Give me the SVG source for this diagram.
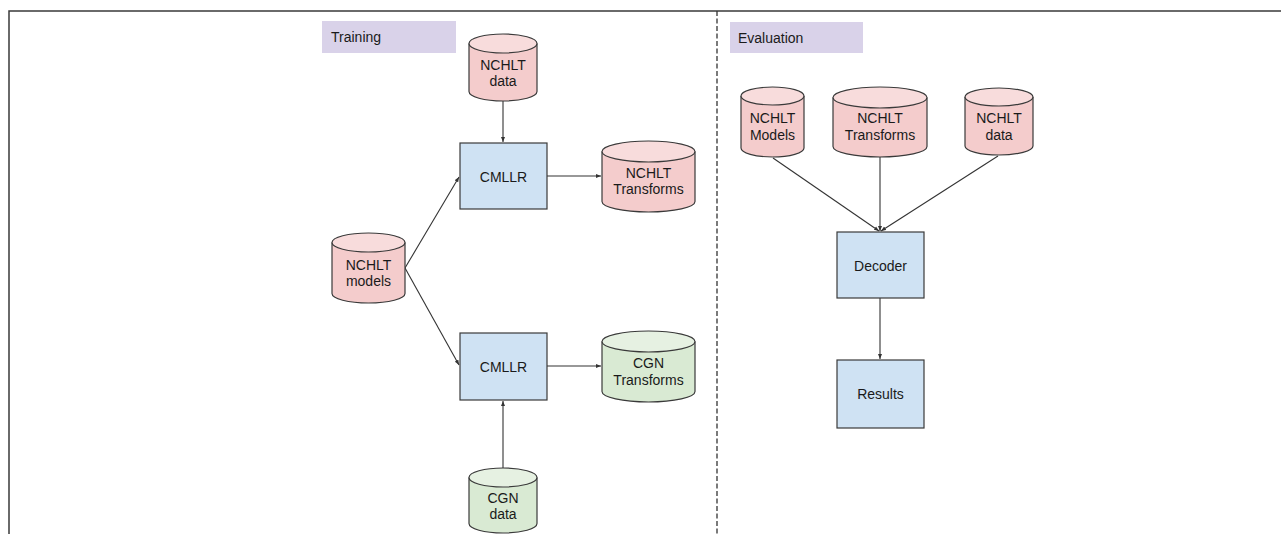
<svg xmlns="http://www.w3.org/2000/svg" width="1281" height="534" viewBox="0 0 1281 534">
<defs>
<style>
text{font-family:"Liberation Sans",Arial,sans-serif;font-size:14px;fill:#1a1a1a;text-anchor:middle}
.lbl{text-anchor:start}
.sec{fill:#d9d2e9}
.box{fill:#cfe2f3;stroke:#3a3a3a;stroke-width:1.2}
.cylp{fill:#f4cccc;stroke:#3a3a3a;stroke-width:1.2}
.topp{fill:#f8dcdc;stroke:#3a3a3a;stroke-width:1.2}
.cylg{fill:#d9ead3;stroke:#3a3a3a;stroke-width:1.2}
.topg{fill:#e6f1e2;stroke:#3a3a3a;stroke-width:1.2}
.edge{fill:none;stroke:#333;stroke-width:1.1;marker-end:url(#ah)}
.frame{fill:none;stroke:#3a3a3a;stroke-width:1.5}
</style>
<marker id="ah" viewBox="0 0 10 10" refX="10" refY="5" markerWidth="5" markerHeight="5" markerUnits="userSpaceOnUse" orient="auto"><path d="M0,1 L10,5 L0,9 Z" fill="#333"/></marker>
</defs>
<rect width="1281" height="534" fill="#fff"/>
<g id="frame">
<path class="frame" d="M9,534 V11 H1281"/>
<line x1="717" y1="11" x2="717" y2="534" stroke="#333" stroke-width="1.3" stroke-dasharray="5,2.5"/>
</g>
<g id="training-label"><rect class="sec" x="322" y="21" width="134" height="32"/><text class="lbl" x="331" y="42">Training</text></g>
<g id="evaluation-label"><rect class="sec" x="730" y="22" width="133" height="31"/><text class="lbl" x="738" y="43">Evaluation</text></g>

<g id="connectors">
<line class="edge" x1="503" y1="101" x2="503" y2="142"/>
<line class="edge" x1="547" y1="176" x2="601" y2="176"/>
<line class="edge" x1="405" y1="268" x2="459" y2="177"/>
<line class="edge" x1="405" y1="268" x2="459" y2="365"/>
<line class="edge" x1="547" y1="366" x2="601" y2="366"/>
<line class="edge" x1="503" y1="468" x2="503" y2="401"/>
<line class="edge" x1="773" y1="158" x2="879" y2="231"/>
<line class="edge" x1="880" y1="157" x2="880" y2="231"/>
<line class="edge" x1="998" y1="156" x2="881" y2="231"/>
<line class="edge" x1="880" y1="298" x2="880" y2="359"/>
</g>

<g id="nchlt-data-train">
<path class="cylp" d="M469,43.5 V91.5 A34,9.5 0 0 0 537,91.5 V43.5"/>
<ellipse class="topp" cx="503" cy="43.5" rx="34" ry="9.5"/>
<text x="503" y="70">NCHLT</text><text x="503" y="86">data</text>
</g>
<g id="cmllr1"><rect class="box" x="460" y="143" width="87" height="66"/><text x="503.5" y="182">CMLLR</text></g>
<g id="nchlt-transforms-train">
<path class="cylp" d="M602,151.5 V201.5 A46.5,10.5 0 0 0 695,201.5 V151.5"/>
<ellipse class="topp" cx="648.5" cy="151.5" rx="46.5" ry="10.5"/>
<text x="648.5" y="178">NCHLT</text><text x="648.5" y="194">Transforms</text>
</g>
<g id="nchlt-models-train">
<path class="cylp" d="M332,242.5 V293.5 A36.5,9.5 0 0 0 405,293.5 V242.5"/>
<ellipse class="topp" cx="368.5" cy="242.5" rx="36.5" ry="9.5"/>
<text x="368.5" y="270">NCHLT</text><text x="368.5" y="286">models</text>
</g>
<g id="cmllr2"><rect class="box" x="460" y="333" width="87" height="67"/><text x="503.5" y="372">CMLLR</text></g>
<g id="cgn-transforms">
<path class="cylg" d="M602,341.5 V391.5 A46.5,10.5 0 0 0 695,391.5 V341.5"/>
<ellipse class="topg" cx="648.5" cy="341.5" rx="46.5" ry="10.5"/>
<text x="648.5" y="368">CGN</text><text x="648.5" y="385">Transforms</text>
</g>
<g id="cgn-data">
<path class="cylg" d="M469,477.5 V523.5 A34,9.5 0 0 0 537,523.5 V477.5"/>
<ellipse class="topg" cx="503" cy="477.5" rx="34" ry="9.5"/>
<text x="503" y="503">CGN</text><text x="503" y="519">data</text>
</g>

<g id="nchlt-models-eval">
<path class="cylp" d="M741,96 V148 A31.5,9 0 0 0 804,148 V96"/>
<ellipse class="topp" cx="772.5" cy="96" rx="31.5" ry="9"/>
<text x="772.5" y="123">NCHLT</text><text x="772.5" y="140">Models</text>
</g>
<g id="nchlt-transforms-eval">
<path class="cylp" d="M833,97.5 V146.5 A47,10.5 0 0 0 927,146.5 V97.5"/>
<ellipse class="topp" cx="880" cy="97.5" rx="47" ry="10.5"/>
<text x="880" y="123">NCHLT</text><text x="880" y="140">Transforms</text>
</g>
<g id="nchlt-data-eval">
<path class="cylp" d="M965,97 V146 A34,9 0 0 0 1033,146 V97"/>
<ellipse class="topp" cx="999" cy="97" rx="34" ry="9"/>
<text x="999" y="123">NCHLT</text><text x="999" y="140">data</text>
</g>
<g id="decoder"><rect class="box" x="837" y="232" width="87" height="66"/><text x="880.5" y="271">Decoder</text></g>
<g id="results"><rect class="box" x="837" y="360" width="87" height="68"/><text x="880.5" y="399">Results</text></g>
</svg>
